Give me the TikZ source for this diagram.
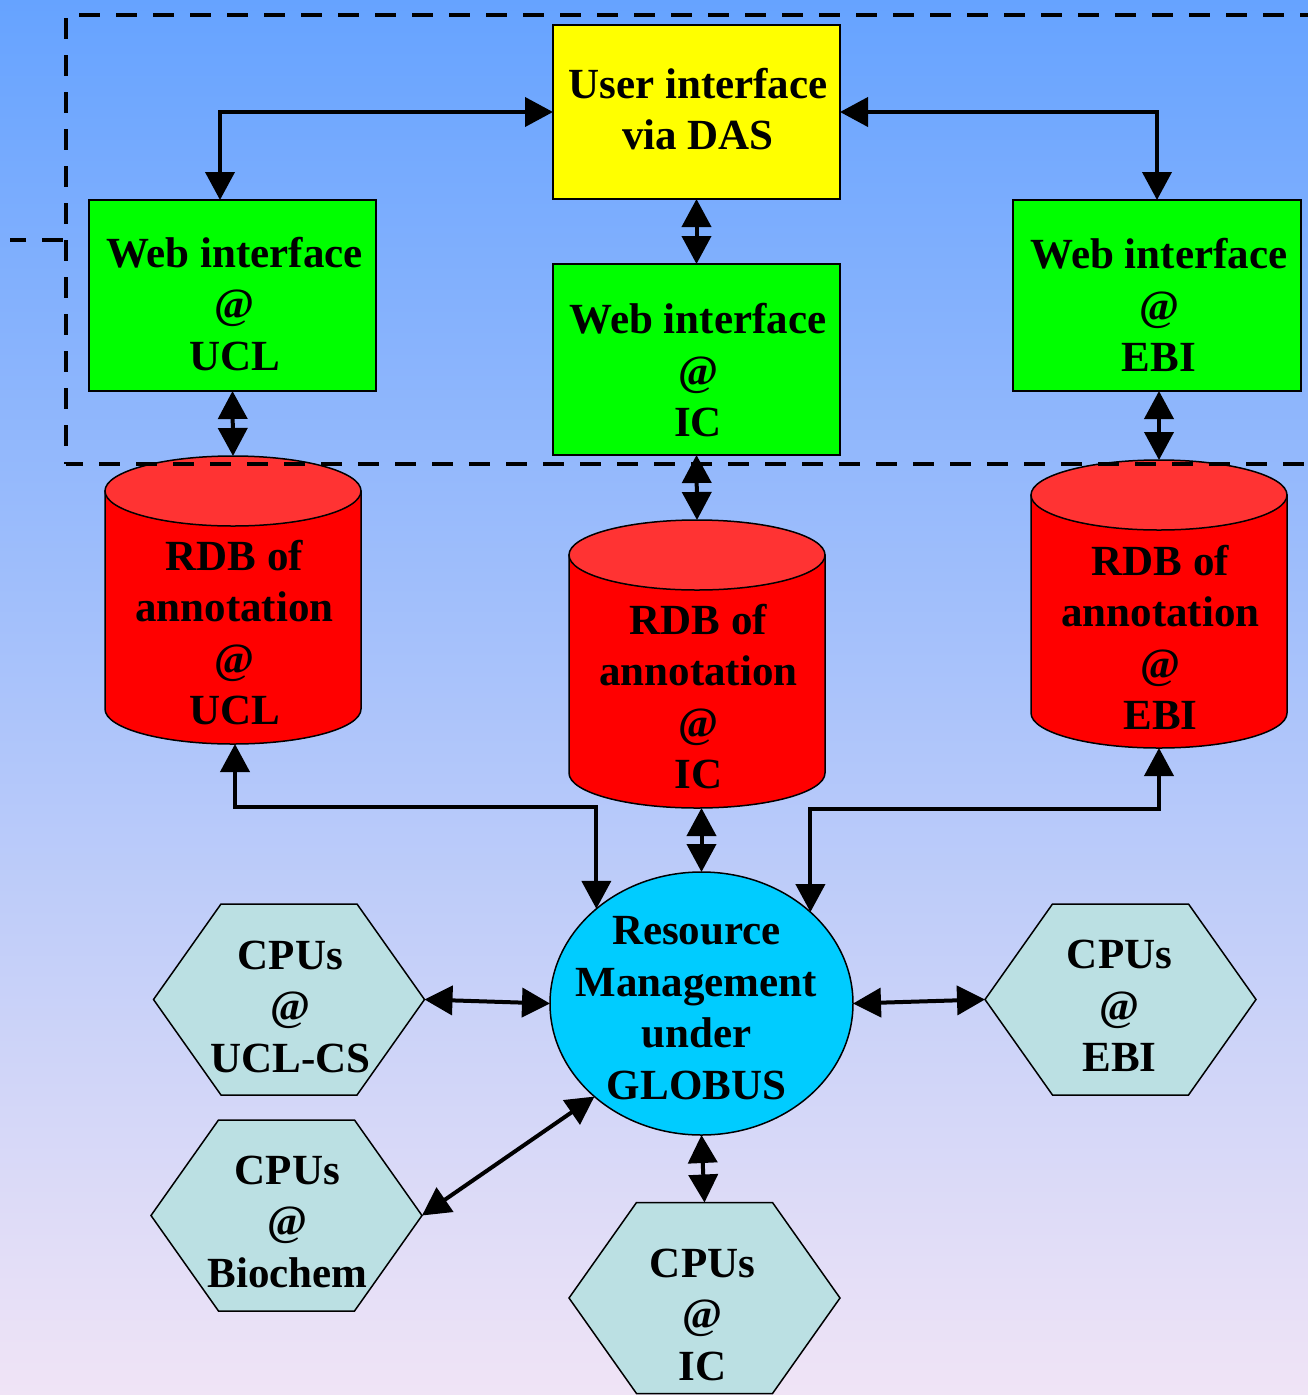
\documentclass[tikz,border=0pt]{standalone}
\usepackage{fontspec}
\setmainfont{Liberation Serif}
\usetikzlibrary{arrows.meta,shapes.geometric}
\definecolor{bgtop}{RGB}{102,163,255}
\definecolor{bgbot}{RGB}{240,228,246}
\definecolor{uiyellow}{RGB}{255,255,0}
\definecolor{webgreen}{RGB}{0,255,0}
\definecolor{dbred}{RGB}{255,0,0}
\definecolor{dbtop}{RGB}{255,51,51}
\definecolor{rmcyan}{RGB}{0,204,255}
\definecolor{cpucol}{RGB}{187,224,227}
\tikzset{
  box/.style={draw=black, line width=1.5pt, inner sep=0pt, outer sep=0pt},
  lbl/.style={font=\fontsize{43}{51.5}\selectfont\bfseries, align=center, inner sep=0pt},
  conn/.style={line width=4pt, {Triangle[width=29pt,length=28pt]}-{Triangle[width=29pt,length=28pt]}},
  frameline/.style={line width=4pt, dash pattern=on 21pt off 16pt},
  outline/.style={draw=black, line width=1.5pt},
}
\newcommand\dbcyl[4]{%
  \path[outline, fill=dbred] (#2-128,#3+35) -- (#2-128,#4-35)
     arc[start angle=180,end angle=0,x radius=128,y radius=35] -- (#2+128,#3+35) -- cycle;
  \path[outline, fill=dbtop] (#2,#3+35) ellipse[x radius=128,y radius=35];
  \coordinate (#1-t) at (#2,#3);
  \coordinate (#1-b) at (#2,#4);
}
\newcommand\cpuhex[3]{%
  \path[outline, fill=cpucol] (#2-135.5,#3) coordinate (#1-l) -- (#2-68,#3-95.5) -- (#2+68,#3-95.5)
     -- (#2+135.5,#3) coordinate (#1-r) -- (#2+68,#3+95.5) -- (#2-68,#3+95.5) -- cycle;
  \coordinate (#1-t) at (#2,#3-95.5);
}
\begin{document}
\begin{tikzpicture}[x=1pt,y=-1pt]
\useasboundingbox (0,0) rectangle (1308,1395);
\shade[top color=bgtop, bottom color=bgbot] (0,0) rectangle (1308,1395);

% top boxes
\node[box, fill=uiyellow, minimum width=287pt, minimum height=174pt] (ui) at (696.5,112) {};
\node[lbl] (uit) at (698,109) {User interface\\via DAS};
\node[box, fill=webgreen, minimum width=287pt, minimum height=191pt] (wu) at (232.5,295.5) {};
\node[lbl] (wut) at (234.5,304) {Web interface\\@\\UCL};
\node[box, fill=webgreen, minimum width=287pt, minimum height=191pt] (wi) at (696.5,359.5) {};
\node[lbl] (wit) at (698,370.5) {Web interface\\@\\IC};
\node[box, fill=webgreen, minimum width=288pt, minimum height=191pt] (we) at (1157,295.5) {};
\node[lbl] (wet) at (1159,305) {Web interface\\@\\EBI};

% databases
\dbcyl{cu}{233}{456}{744}
\node[lbl] (cut) at (234.5,632.5) {RDB of\\annotation\\@\\UCL};
\dbcyl{ci}{697}{520}{808}
\node[lbl] (cit) at (698.5,696.5) {RDB of\\annotation\\@\\IC};
\dbcyl{ce}{1159}{460}{748}
\node[lbl] (cet) at (1160.5,637.5) {RDB of\\annotation\\@\\EBI};

% resource management
\node[draw=black, line width=1.5pt, fill=rmcyan, ellipse, minimum width=303pt, minimum height=263pt, inner sep=0pt, outer sep=0pt] (rm) at (701.5,1003.5) {};
\node[lbl] (rmt) at (696.5,1008) {Resource\\Management\\under\\GLOBUS};

% CPUs
\cpuhex{hu}{289}{999.5}
\node[lbl] (hut) at (290.5,1006.5) {CPUs\\@\\UCL-CS};
\cpuhex{he}{1120.5}{999.5}
\node[lbl] (het) at (1119.5,1006) {CPUs\\@\\EBI};
\cpuhex{hb}{286.5}{1215.5}
\node[lbl] (hbt) at (287.5,1221.5) {CPUs\\@\\Biochem};
\cpuhex{hi}{704.5}{1298}
\node[lbl] (hit) at (702.5,1314.5) {CPUs\\@\\IC};

% dashed frame
\draw[frameline, dash phase=24pt] (66,15) -- (1330,15);
\draw[frameline, dash phase=34pt] (66,15) -- (66,464);
\draw[frameline, dash phase=4pt] (66,464) -- (1330,464);
\draw[frameline, dash phase=34pt] (66,240) -- (10,240);

% connectors
\draw[conn] (ui.west) -| ([xshift=-12.5pt]wu.north);
\draw[conn] (ui.east) -| (we.north);
\draw[conn] (ui.south) -- (wi.north);
\draw[conn] (wu.south) -- (cu-t);
\draw[conn] (wi.south) -- (ci-t);
\draw[conn] ([xshift=2pt]we.south) -- (ce-t);
\draw[conn] ([xshift=2pt]cu-b) -- ++(0,63) -| (rm.138.2);
\draw[conn] (ce-b) -- ++(0,61) -| (rm.40.2);
\draw[conn] (rm.north |- ci-b) -- (rm.north);
\draw[conn] (hu-r) -- (rm.west);
\draw[conn] (rm.east) -- (he-l);
\draw[conn] (hb-r) -- (rm.221);
\draw[conn] (rm.south) -- (hi-t);
\end{tikzpicture}
\end{document}
